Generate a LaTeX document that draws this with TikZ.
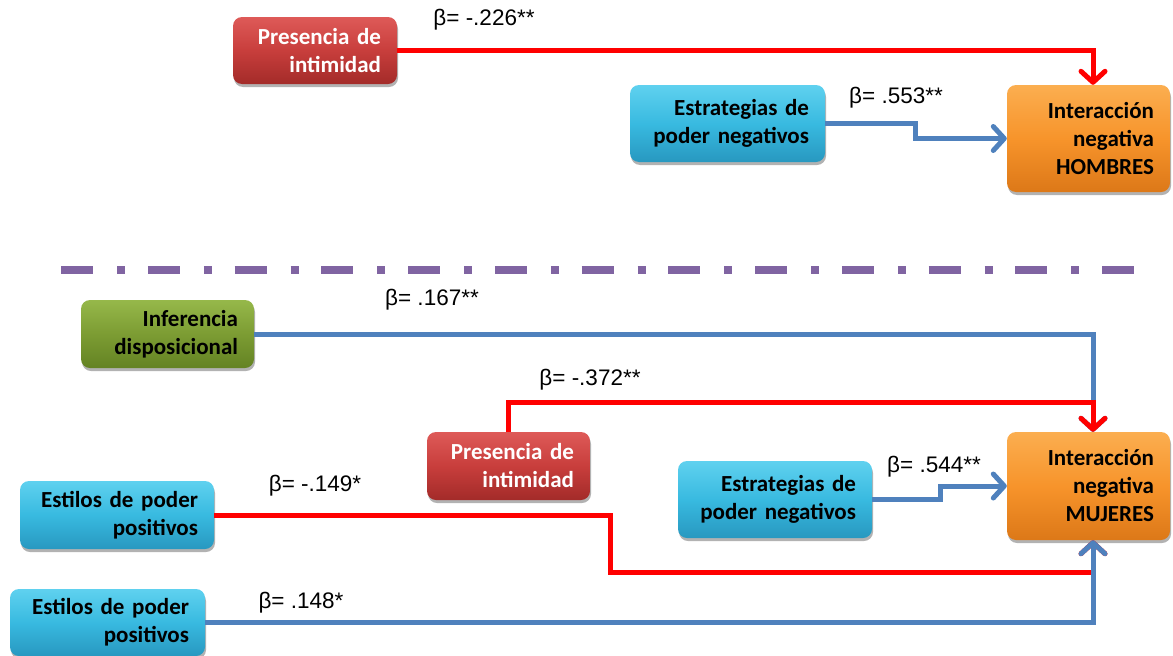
\documentclass[tikz,border=0pt]{standalone}
\usepackage{fontspec}
\setmainfont{Carlito}[WordSpace=0.85]
\newfontfamily\betafont{Liberation Sans}
\usetikzlibrary{arrows.meta,shadows}

\definecolor{redTop}{HTML}{DE5A58}
\definecolor{redMid}{HTML}{C83E3C}
\definecolor{redBot}{HTML}{A32B29}
\definecolor{bluTop}{HTML}{5FD1EF}
\definecolor{bluMid}{HTML}{38BAE0}
\definecolor{bluBot}{HTML}{2898C0}
\definecolor{grnTop}{HTML}{96B84A}
\definecolor{grnMid}{HTML}{7C9C33}
\definecolor{grnBot}{HTML}{648323}
\definecolor{orgTop}{HTML}{FBAE50}
\definecolor{orgMid}{HTML}{F7942B}
\definecolor{orgBot}{HTML}{DC7818}
\definecolor{pathRed}{HTML}{FF0000}
\definecolor{pathBlue}{HTML}{4F81BD}
\definecolor{sepPurple}{HTML}{8064A2}

\tikzset{
  varbox/.style 2 args={
    rounded corners=9pt, inner xsep=16pt, inner ysep=0pt,
    minimum width=#1pt, minimum height=#2pt, text width=#1pt-32pt,
    align=right, font=\bfseries\fontsize{23}{28}\selectfont,
    drop shadow={shadow xshift=1pt, shadow yshift=-3pt, opacity=0.3, fill=black}},
  redbox/.style={top color=redTop, bottom color=redBot, middle color=redMid, text=white},
  bluebox/.style={top color=bluTop, bottom color=bluBot, middle color=bluMid, text=black},
  greenbox/.style={top color=grnTop, bottom color=grnBot, middle color=grnMid, text=black},
  orangebox/.style={top color=orgTop, bottom color=orgBot, middle color=orgMid, text=black},
  beta/.style={font=\betafont\fontsize{22.5}{24}\selectfont, inner sep=0pt},
  link/.style={line width=5pt, -{Straight Barb[length=11pt,width=24pt,round]}},
  redlink/.style={link, draw=pathRed},
  bluelink/.style={link, draw=pathBlue},
}

\begin{document}
\begin{tikzpicture}[x=1pt,y=-1pt]
  \useasboundingbox (0,0) rectangle (1173,656);

  % ---- upper model: men ----
  \node[varbox={164}{67}, redbox]    (pi1) at (315,50.5)    {Presencia de\\intimidad};
  \node[varbox={195}{77}, bluebox]   (en1) at (727.5,123.5) {Estrategias de\\poder negativos};
  \node[varbox={163}{107}, orangebox] (ih)  at (1088.5,138.5) {Interacción\\negativa\\HOMBRES};

  \coordinate (col) at (1093,0);

  \draw[redlink]  (pi1.east) -- (pi1 -| col) -- (col |- ih.north);
  \draw[bluelink] (en1.east) -- ++(90,0) -- ++(0,15) -- (ih.west);

  \node[beta] (b226) at (484,20) {β= -.226**};
  \node[beta] (b553) at (896,98) {β= .553**};

  % ---- separator ----
  \coordinate (sepL) at (61,270);
  \coordinate (sepR) at (1134,270);
  \draw[sepPurple, line width=8pt, dash pattern=on 32pt off 24pt on 8pt off 22.75pt] (sepL) -- (sepR);

  % ---- lower model: women ----
  \node[varbox={173}{68}, greenbox]  (inf) at (167.5,334)  {Inferencia\\disposicional};
  \node[varbox={163}{68}, redbox]    (pi2) at (508.5,466)  {Presencia de\\intimidad};
  \node[varbox={194}{77}, bluebox]   (en2) at (775,499.5)  {Estrategias de\\poder negativos};
  \node[varbox={194}{68}, bluebox]   (ep1) at (117,515)    {Estilos de poder\\positivos};
  \node[varbox={195}{67}, bluebox]   (ep2) at (107.5,622.5) {Estilos de poder\\positivos};
  \node[varbox={163}{108}, orangebox] (im) at (1088.5,486) {Interacción\\negativa\\MUJERES};

  \draw[bluelink] (inf.east) -- (inf -| col) -- (col |- im.north);
  \draw[redlink]  (pi2.north) -- ++(0,-29) -| (col |- im.north);
  \draw[bluelink] (en2.east) -- ++(68,0) -- ++(0,-13.5) -- (im.west);
  \draw[redlink]  (ep1.east) -| (610,572) -| (col |- im.south);
  \draw[bluelink] (ep2.east) -| (col |- im.south);

  \node[beta] (b167) at (432,300) {β= .167**};
  \node[beta] (b372) at (590,380) {β= -.372**};
  \node[beta] (b544) at (934,467) {β= .544**};
  \node[beta] (b149) at (315,486) {β= -.149*};
  \node[beta] (b148) at (301,603) {β= .148*};
\end{tikzpicture}
\end{document}
